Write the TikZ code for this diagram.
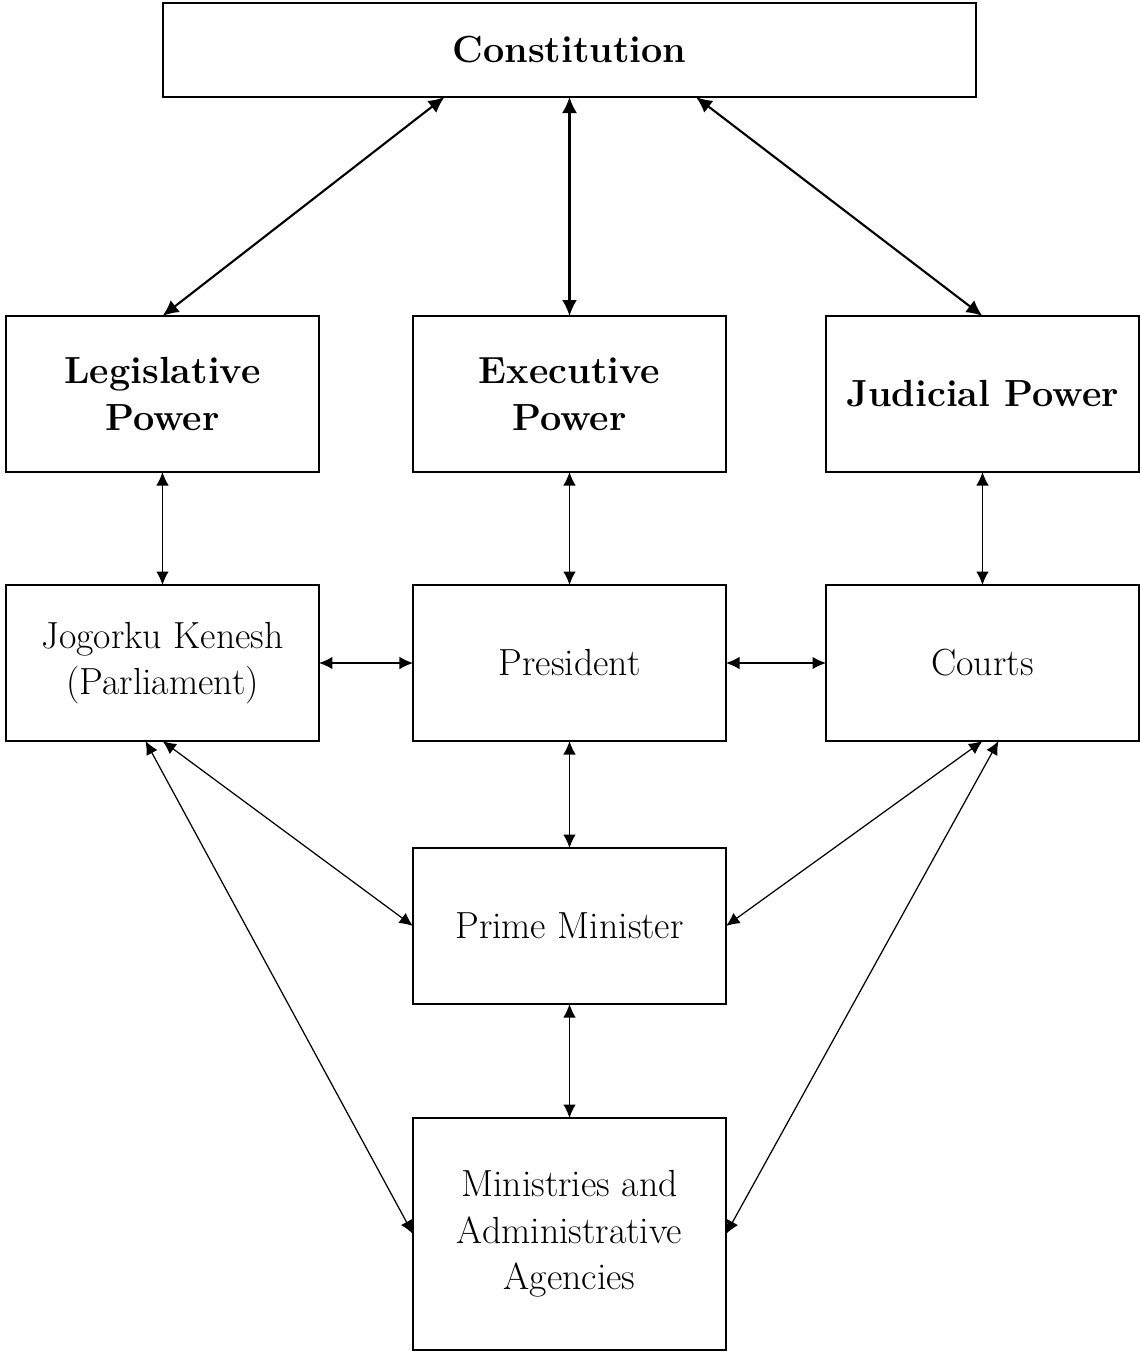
\documentclass[tikz,border=0pt]{standalone}
\usepackage{tikz}
\usetikzlibrary{arrows.meta,positioning,calc}
\tikzset{
  box/.style={draw, line width=0.6pt, minimum width=6.26cm, minimum height=3.12cm, inner sep=0pt, outer sep=0pt, align=center, font=\fontsize{21.5}{26.5}\selectfont},
  power/.style={box, font=\fontsize{21.5}{26.5}\selectfont\bfseries},
  toparrow/.style={{Latex[length=3.2mm,width=3mm]}-{Latex[length=3.2mm,width=3mm]}, line width=1.2pt},
  arrow/.style={{Latex[length=2.7mm,width=2.5mm]}-{Latex[length=2.7mm,width=2.5mm]}, line width=0.7pt},
}

\begin{document}
\begin{tikzpicture}
\node[power, minimum width=16.26cm, minimum height=1.88cm] (cons) {Constitution};
\node[power, below=4.38cm of cons] (ep) {Executive\\Power};
\node[power, left=1.88cm of ep] (lp) {Legislative\\Power};
\node[power, right=2cm of ep] (jp) {Judicial Power};
\node[box, below=2.26cm of lp] (jk) {Jogorku Kenesh\\(Parliament)};
\node[box, below=2.26cm of ep] (pres) {President};
\node[box, below=2.26cm of jp] (courts) {Courts};
\node[box, below=2.14cm of pres] (pm) {Prime Minister};
\node[box, below=2.28cm of pm, minimum height=4.64cm] (min) {Ministries and\\Administrative\\Agencies};
% constitution to the three powers
\draw[toparrow] ([xshift=-2.5cm]cons.south) -- (lp.north);
\draw[toparrow] (cons.south) -- (ep.north);
\draw[toparrow] ([xshift=2.53cm]cons.south) -- (jp.north);
% powers to institutions
\draw[arrow] (lp) -- (jk);
\draw[arrow] (ep) -- (pres);
\draw[arrow] (jp) -- (courts);
\draw[arrow] (jk) -- (pres);
\draw[arrow] (pres) -- (courts);
\draw[arrow] (pres) -- (pm);
\draw[arrow] (pm) -- (min);
\draw[arrow] (jk.south) -- (pm.west);
\draw[arrow] ([xshift=-0.34cm]jk.south) -- (min.west);
\draw[arrow] (courts.south) -- (pm.east);
\draw[arrow] ([xshift=0.32cm]courts.south) -- (min.east);
\path[use as bounding box] ($(lp.west |- min.south)+(-0.12,-0.04)$) rectangle ($(jp.east |- cons.north)+(0.02,0.06)$);
\end{tikzpicture}
\end{document}
